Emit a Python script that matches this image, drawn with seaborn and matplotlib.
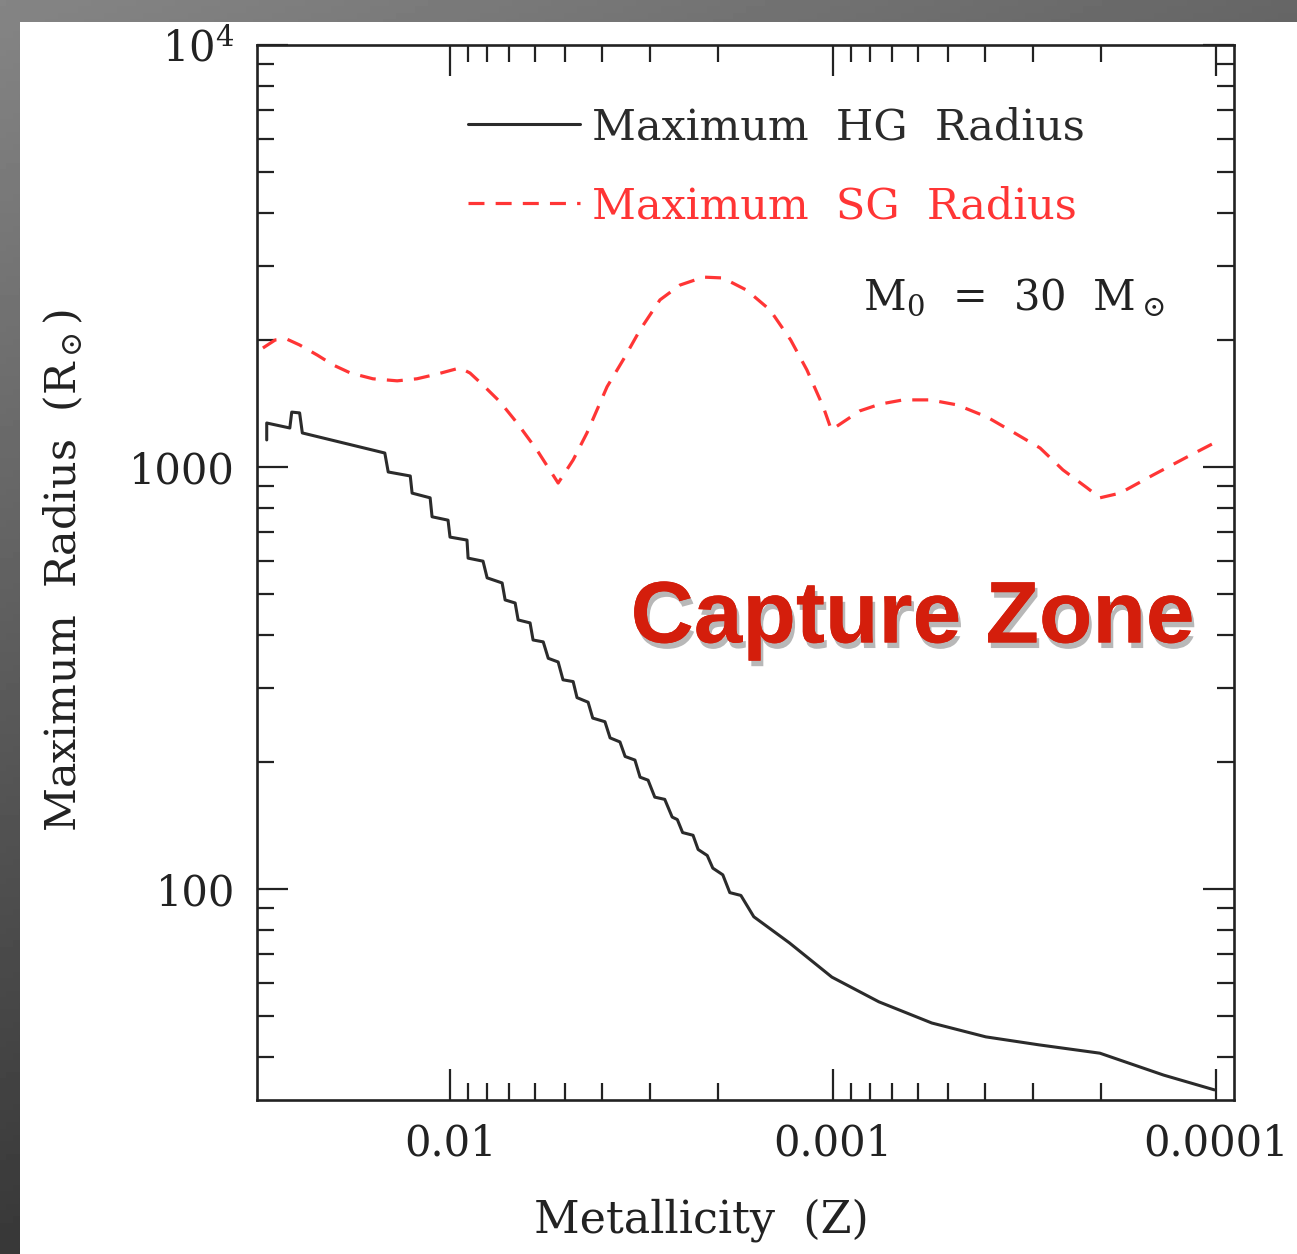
import numpy as np
import matplotlib
matplotlib.use("Agg")
import matplotlib.pyplot as plt
import matplotlib.patheffects as pe
from matplotlib.patches import Rectangle
from matplotlib.ticker import NullFormatter
import seaborn as sns

# Maximum HG radius (solid black)
hg_z = [0.0301, 0.0301, 0.0262, 0.0259, 0.0247, 0.0243, 0.0148, 0.0145, 0.0127, 0.01256,
        0.01127, 0.01114, 0.01012, 0.0100, 0.00903, 0.00897, 0.00820, 0.00800, 0.00731, 0.00718,
        0.00676, 0.00664, 0.00618, 0.00607, 0.00571, 0.00554, 0.00522, 0.00507, 0.00477, 0.00466,
        0.00436, 0.00424, 0.00394, 0.00382, 0.00360, 0.00349, 0.00329, 0.00319, 0.00304, 0.00292,
        0.00275, 0.00263, 0.00255, 0.00247, 0.00232, 0.00225, 0.00213, 0.00206, 0.00194, 0.00186,
        0.00174, 0.00161, 0.00130, 0.001007, 0.000759, 0.000552, 0.000399, 0.000290, 0.000201,
        0.000137, 0.000101]
hg_r = [1159, 1271, 1237, 1349, 1343, 1204, 1079, 973, 952, 867,
        845, 762, 748, 682, 671, 608, 598, 546, 531, 484,
        476, 434, 427, 389, 385, 352, 345, 313, 310, 284,
        277, 254, 249, 228, 223, 206, 202, 184, 181, 165,
        163, 148, 146, 136, 134, 124, 120, 112, 108, 98.0,
        96.5, 85.9, 74.5, 61.8, 54.0, 48.1, 44.6, 42.7, 40.8,
        36.2, 33.4]

# Maximum SG radius (dashed red)
sg_z = [0.0308, 0.0286, 0.0267, 0.0247, 0.0222, 0.0202, 0.0182, 0.0159, 0.01374, 0.01220,
        0.01081, 0.00942, 0.00887, 0.00820, 0.00740, 0.00668, 0.00593, 0.00522, 0.00477, 0.00439,
        0.00389, 0.00353, 0.00319, 0.00283, 0.00251, 0.00218, 0.00194, 0.00168, 0.00146, 0.00129,
        0.00117, 0.00106, 0.00101, 0.000851, 0.000754, 0.000656, 0.000558, 0.000474, 0.000396,
        0.000339, 0.000288, 0.000251, 0.000217, 0.000201, 0.000178, 0.000146, 0.000119, 0.0001]
sg_r = [1914, 2000, 2010, 1946, 1841, 1745, 1670, 1618, 1600, 1618,
        1660, 1717, 1670, 1563, 1426, 1271, 1097, 916, 1039, 1204,
        1549, 1795, 2113, 2489, 2698, 2818, 2805, 2624, 2355, 2000,
        1698, 1387, 1224, 1358, 1409, 1442, 1442, 1403, 1313,
        1210, 1109, 984, 892, 845, 867, 957, 1056, 1146]

x_ticks = [0.01, 0.001, 0.0001]
x_tick_labels = ["0.01", "0.001", "0.0001"]
y_ticks = [100, 1000, 10000]
y_tick_labels = ["100", "1000", r"10$^4$"]

sns.set_theme(style="white")
plt.rcParams["font.family"] = ["DejaVu Serif"]
plt.rcParams["mathtext.fontset"] = "dejavuserif"

fig = plt.figure(figsize=(12.97, 12.54), dpi=100)

# dark gradient frame behind the white slide panel
bg = fig.add_axes([0, 0, 1, 1], zorder=-10)
gx, gy = np.meshgrid(np.linspace(0, 1, 200), np.linspace(0, 1, 200))
bg.imshow(0.52 - 0.12 * gx - 0.3 * gy, cmap="gray", vmin=0, vmax=1, aspect="auto",
          extent=[0, 1, 0, 1], origin="upper")
bg.set_axis_off()
fig.patches.append(Rectangle((20 / 1297, 0), 1, 1 - 22 / 1254, transform=fig.transFigure,
                             facecolor="white", edgecolor="none", zorder=-5))

ax = fig.add_axes([0.1982, 0.1228, 0.7533, 0.8413])
ax.set_facecolor("white")

sns.lineplot(x=hg_z, y=hg_r, ax=ax, sort=False, estimator=None, color="#2b2b2b",
             linewidth=2.2, label="Maximum  HG  Radius")
sns.lineplot(x=sg_z, y=sg_r, ax=ax, sort=False, estimator=None, color="#ff3535",
             linewidth=2.3, label="Maximum  SG  Radius")
ax.lines[1].set_dashes((5, 3.5))

ax.set_xscale("log")
ax.set_yscale("log")
ax.set_xlim(0.0319, 8.97e-5)
ax.set_ylim(31.6, 1e4)

ax.set_xticks(x_ticks, x_tick_labels)
ax.set_xticks([k * 1e-3 for k in range(2, 10)] + [k * 1e-4 for k in range(2, 10)], minor=True)
ax.set_yticks(y_ticks, y_tick_labels)
ax.set_yticks([k * 10 for k in range(4, 10)] + [k * 100 for k in range(2, 10)]
              + [k * 1000 for k in range(2, 10)], minor=True)
ax.xaxis.set_minor_formatter(NullFormatter())
ax.yaxis.set_minor_formatter(NullFormatter())

ax.tick_params(which="both", direction="in", top=True, right=True, bottom=True, left=True,
               color="#222222")
ax.tick_params(which="major", length=22, width=1.6, labelsize=30, pad=16, labelcolor="#222222")
ax.tick_params(which="minor", length=12, width=1.6)
for s in ax.spines.values():
    s.set_linewidth(1.9)
    s.set_color("#222222")

ax.set_ylabel(r"Maximum  Radius  (R$_\odot$)", fontsize=31, color="#222222")
ax.yaxis.set_label_coords(-0.176, 0.502)
ax.set_xlabel("Metallicity  (Z)", fontsize=32, color="#222222")
ax.xaxis.set_label_coords(0.455, -0.093)

ax.legend(loc="upper left", bbox_to_anchor=(0.216, 0.942), frameon=False, fontsize=31,
          handlelength=2.6, handletextpad=0.28, labelspacing=0.86, borderpad=0,
          borderaxespad=0, labelcolor="linecolor")

ax.text(0.929, 0.749, r"M$_0$  =  30  M$_\odot$", transform=ax.transAxes, ha="right",
        va="baseline", fontsize=30, color="#222222")

ax.text(0.671, 0.455, "Capture Zone", transform=ax.transAxes, ha="center", va="center",
        fontsize=63, fontweight="bold", family=["Liberation Sans", "DejaVu Sans"],
        color="#d41e0c",
        path_effects=[pe.withSimplePatchShadow(offset=(2, -4), shadow_rgbFace="black", alpha=0.28),
                      pe.Normal()])

fig.savefig("out.png", dpi=100)
